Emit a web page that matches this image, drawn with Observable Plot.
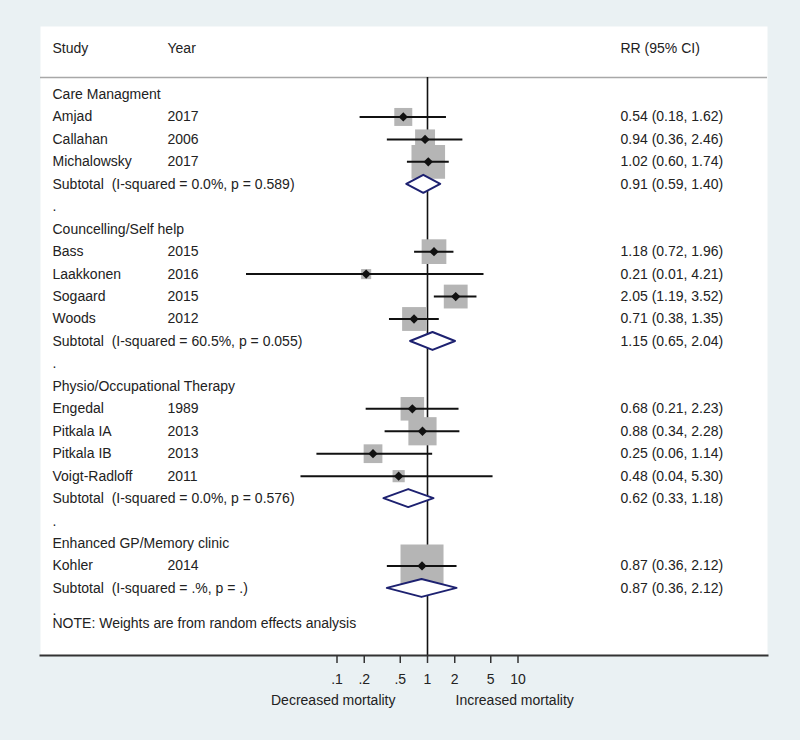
<!DOCTYPE html>
<html>
<head>
<meta charset="utf-8">
<script src="https://cdn.jsdelivr.net/npm/d3@7"></script>
<script src="https://cdn.jsdelivr.net/npm/@observablehq/plot@0.6"></script>
<style>
  html, body { margin: 0; padding: 0; background: #eaf1f3; }
</style>
</head>
<body>
<div id="chart"></div>
<script>
// ---- data ----
const groups = ["Care Managment", "Councelling/Self help", "Physio/Occupational Therapy", "Enhanced GP/Memory clinic"];
const studies = ["Amjad", "Callahan", "Michalowsky", "Bass", "Laakkonen", "Sogaard", "Woods", "Engedal", "Pitkala IA", "Pitkala IB", "Voigt-Radloff", "Kohler"];
const years = [2017, 2006, 2017, 2015, 2016, 2015, 2012, 1989, 2013, 2013, 2011, 2014];
const studyGroup = [0, 0, 0, 1, 1, 1, 1, 2, 2, 2, 2, 3];
const rr = [0.54, 0.94, 1.02, 1.18, 0.21, 2.05, 0.71, 0.68, 0.88, 0.25, 0.48, 0.87];
const lo = [0.18, 0.36, 0.60, 0.72, 0.01, 1.19, 0.38, 0.21, 0.34, 0.06, 0.04, 0.36];
const hi = [1.62, 2.46, 1.74, 1.96, 4.21, 3.52, 1.35, 2.23, 2.28, 1.14, 5.30, 2.12];
const weights = [17.5, 21.5, 61, 33, 5.5, 30.75, 30.75, 30, 43, 19, 8, 100];
const subRR = [0.91, 1.15, 0.62, 0.87];
const subLo = [0.59, 0.65, 0.33, 0.36];
const subHi = [1.40, 2.04, 1.18, 2.12];
const subI2 = ["0.0%", "60.5%", "0.0%", ".%"];
const subP = ["0.589", "0.055", "0.576", "."];
const tickValues = [0.1, 0.2, 0.5, 1, 2, 5, 10];
const tickLabels = [".1", ".2", ".5", "1", "2", "5", "10"];
const headers = ["Study", "Year", "RR (95% CI)"];
const note = "NOTE: Weights are from random effects analysis";
const leftLabel = "Decreased mortality";
const rightLabel = "Increased mortality";

(function () {
// ---- layout rows ----
const fmt = v => v.toFixed(2);
const ci = (e, l, h) => `${fmt(e)} (${fmt(l)}, ${fmt(h)})`;
const textRows = [];
const studyRows = [];
const subRows = [];
let r = 0;
groups.forEach((g, gi) => {
  textRows.push({row: r++, study: g, year: "", ci: ""});
  studies.forEach((s, i) => {
    if (studyGroup[i] !== gi) return;
    const d = {row: r++, study: s, year: String(years[i]), ci: ci(rr[i], lo[i], hi[i]), rr: rr[i], lo: lo[i], hi: hi[i], w: weights[i]};
    textRows.push(d);
    studyRows.push(d);
  });
  const sd = {row: r++, study: `Subtotal  (I-squared = ${subI2[gi]}, p = ${subP[gi]})`, year: "", ci: ci(subRR[gi], subLo[gi], subHi[gi]), g: gi, rr: subRR[gi], lo: subLo[gi], hi: subHi[gi]};
  textRows.push(sd);
  subRows.push(sd);
  textRows.push({row: r++, study: ".", year: "", ci: ""});
});
const noteRow = r - 0.45;

const dh = 0.4;
const diamondPts = subRows.flatMap(d => [
  {g: d.g, x: d.lo, y1: d.row, y2: d.row},
  {g: d.g, x: d.rr, y1: d.row - dh, y2: d.row + dh},
  {g: d.g, x: d.hi, y1: d.row, y2: d.row}
]);

const W = 800, H = 740;
const pLeft = 40, pRight = 767, pTop = 26, pBottom = 655;
const x1px = 427, pxPerDecade = 90.5;
const rowTop = 94, rowStep = 22.45;
const yOf = px => (px - rowTop) / rowStep;
const headerRow = yOf(48);
const sepRow = yOf(77);
const FS = 14;
const ink = "#222";

const txt = {fontSize: FS, fill: ink, textAnchor: "start", frameAnchor: "left"};

const chart = Plot.plot({
  width: W,
  height: H,
  marginLeft: pLeft,
  marginRight: W - pRight,
  marginTop: pTop,
  marginBottom: H - pBottom,
  style: {background: "#eaf1f3", fontFamily: "'Liberation Sans', Arial, sans-serif", fontSize: FS + "px", color: ink},
  x: {type: "log", domain: [10 ** ((pLeft - x1px) / pxPerDecade), 10 ** ((pRight - x1px) / pxPerDecade)], range: [pLeft, pRight], axis: null},
  y: {domain: [yOf(pTop), yOf(pBottom)], range: [pTop, pBottom], axis: null},
  r: {type: "sqrt", domain: [0, 100], range: [0, 43 / Math.sqrt(Math.PI)]},
  marks: [
    Plot.frame({fill: "white", stroke: "none"}),
    Plot.ruleY([sepRow], {stroke: "#a8a8a8", strokeWidth: 1.5}),
    Plot.ruleX([1], {y1: sepRow, y2: yOf(pBottom), stroke: "#111", strokeWidth: 1.6}),
    Plot.dot(studyRows, {x: "rr", y: "row", r: "w", symbol: "square", fill: "#b5b5b5", stroke: "none", sort: null}),
    Plot.ruleY(studyRows, {y: "row", x1: "lo", x2: "hi", stroke: "#111", strokeWidth: 2}),
    Plot.dot(studyRows, {x: "rr", y: "row", r: 4.2, symbol: "diamond2", fill: "#111", stroke: "none"}),
    Plot.areaY(diamondPts, {x: "x", y1: "y1", y2: "y2", z: "g", fill: "white", stroke: "#1d2170", strokeWidth: 2, curve: "linear"}),
    Plot.text([headers[0]], {...txt, y: headerRow, text: d => d, dx: 12}),
    Plot.text([headers[1]], {...txt, y: headerRow, text: d => d, dx: 127}),
    Plot.text([headers[2]], {...txt, y: headerRow, text: d => d, dx: 580}),
    Plot.text(textRows, {...txt, y: "row", text: "study", dx: 12}),
    Plot.text(textRows, {...txt, y: "row", text: "year", dx: 127}),
    Plot.text(textRows, {...txt, y: "row", text: "ci", dx: 580}),
    Plot.text([note], {...txt, y: noteRow, text: d => d, dx: 12}),
    // x axis: baseline, ticks, labels
    Plot.frame({anchor: "bottom", stroke: "#333", strokeWidth: 2}),
    Plot.ruleX(tickValues, {y1: yOf(pBottom), y2: yOf(pBottom + 8), stroke: "#333", strokeWidth: 1.5}),
    Plot.text(tickValues, {x: d => d, y: yOf(679), text: (d, i) => tickLabels[i], fontSize: FS, fill: ink}),
    Plot.text([leftLabel], {x: 1, y: yOf(700), text: d => d, textAnchor: "end", dx: -32, fontSize: FS, fill: ink}),
    Plot.text([rightLabel], {x: 1, y: yOf(700), text: d => d, textAnchor: "start", dx: 28, fontSize: FS, fill: ink})
  ]
});
document.getElementById("chart").appendChild(chart);
})();
</script>
</body>
</html>
